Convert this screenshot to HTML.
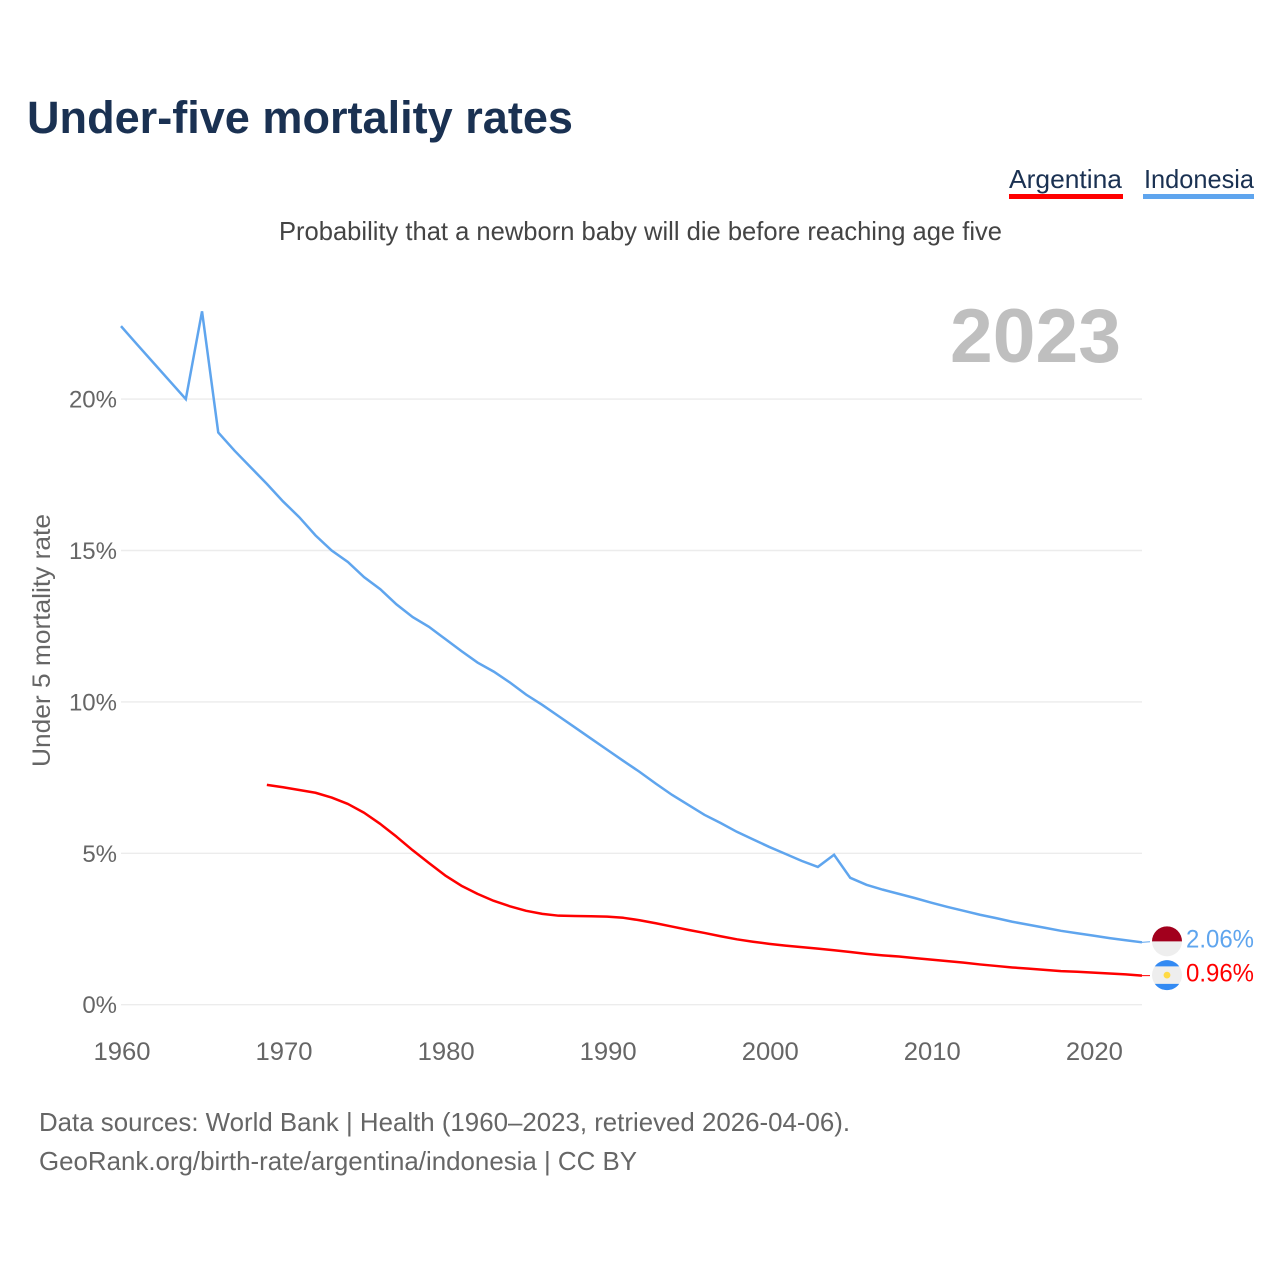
<!DOCTYPE html>
<html lang="en">
<head>
<meta charset="utf-8">
<title>Under-five mortality rates</title>
<style>
html,body{margin:0;padding:0;background:#fff;}
svg{display:block;font-family:"Liberation Sans",Arial,sans-serif;}
</style>
</head>
<body>
<svg id="chart" xmlns="http://www.w3.org/2000/svg" width="1280" height="1280" viewBox="0 0 1280 1280">
  <rect x="0" y="0" width="1280" height="1280" fill="#ffffff"/>
  <text x="27" y="133" font-size="45" font-weight="700" fill="#1a3152" textLength="546" lengthAdjust="spacingAndGlyphs">Under-five mortality rates</text>
  <g>
    <text x="1009" y="188" font-size="26" fill="#1a3152" textLength="113" lengthAdjust="spacingAndGlyphs">Argentina</text>
    <rect x="1009" y="194" width="114" height="5" fill="#ff0000"/>
  </g>
  <g>
    <text x="1144" y="188" font-size="26" fill="#1a3152" textLength="110" lengthAdjust="spacingAndGlyphs">Indonesia</text>
    <rect x="1143" y="194" width="111" height="5" fill="#5fa5ee"/>
  </g>
  <text x="279" y="240" font-size="26" fill="#444444" textLength="723" lengthAdjust="spacingAndGlyphs">Probability that a newborn baby will die before reaching age five</text>
  <text x="950" y="362" font-size="76" font-weight="700" fill="#bfbfbf" textLength="171" lengthAdjust="spacingAndGlyphs">2023</text>
  <text transform="translate(50,767) rotate(-90)" x="0" y="0" font-size="25" fill="#666666" textLength="253" lengthAdjust="spacingAndGlyphs">Under 5 mortality rate</text>
  <g id="grid"></g>
  <g id="yticks"></g>
  <g id="xticks"></g>
  <g id="series"></g>
  <g id="ends"></g>
  <text x="39" y="1131" font-size="26" fill="#666666" textLength="811" lengthAdjust="spacingAndGlyphs">Data sources: World Bank | Health (1960–2023, retrieved 2026-04-06).</text>
  <text x="39" y="1170" font-size="26" fill="#666666" textLength="598" lengthAdjust="spacingAndGlyphs">GeoRank.org/birth-rate/argentina/indonesia | CC BY</text>
</svg>
<script>
var yTickValues = [0, 5, 10, 15, 20];
var xTickYears = [1960, 1970, 1980, 1990, 2000, 2010, 2020];
var indonesiaStartYear = 1960;
var indonesiaValues = [22.41, 21.8, 21.2, 20.6, 20.0, 22.9, 18.9, 18.3, 17.75, 17.2, 16.62, 16.1, 15.5, 15.0, 14.62, 14.12, 13.72, 13.22, 12.8, 12.48, 12.08, 11.68, 11.3, 11.0, 10.64, 10.24, 9.9, 9.53, 9.16, 8.79, 8.42, 8.05, 7.69, 7.3, 6.93, 6.6, 6.27, 6.0, 5.71, 5.46, 5.21, 4.98, 4.75, 4.55, 4.95, 4.19, 3.96, 3.8, 3.66, 3.52, 3.37, 3.23, 3.1, 2.97, 2.86, 2.74, 2.64, 2.54, 2.44, 2.36, 2.28, 2.2, 2.13, 2.06];
var argentinaStartYear = 1969;
var argentinaValues = [7.26, 7.18, 7.09, 7.0, 6.84, 6.63, 6.34, 5.97, 5.55, 5.1, 4.68, 4.27, 3.93, 3.66, 3.43, 3.25, 3.1, 3.0, 2.94, 2.93, 2.92, 2.91, 2.87, 2.79, 2.69, 2.58, 2.47, 2.37, 2.26, 2.16, 2.08, 2.01, 1.95, 1.9, 1.85, 1.8, 1.74, 1.68, 1.63, 1.59, 1.54, 1.49, 1.44, 1.39, 1.33, 1.28, 1.23, 1.19, 1.15, 1.11, 1.09, 1.06, 1.03, 1.0, 0.96];

var NS = 'http://www.w3.org/2000/svg';
var RED = '#ff0000';
var BLUE = '#5fa5ee';
function xScale(year) { return 121 + (year - 1960) * 16.206; }
function yScale(value) { return 1004.7 - value * 30.28; }
function make(tag, parent) {
  var el = document.createElementNS(NS, tag);
  parent.appendChild(el);
  return el;
}
function setAll(el, attrs) {
  for (var k in attrs) { el.setAttribute(k, attrs[k]); }
}

var grid = document.getElementById('grid');
var yticks = document.getElementById('yticks');
yTickValues.forEach(function (v) {
  var line = make('line', grid);
  
  
  setAll(line, { x1: 121, x2: 1142, y1: yScale(v), y2: yScale(v), stroke: '#ececec', 'stroke-width': 1.4 });
  var label = make('text', yticks);
  
  
  setAll(label, { x: 117, y: yScale(v) + 8.5, 'text-anchor': 'end', 'font-size': 24, fill: '#666666' });
  label.textContent = v + '%';
});

var xticks = document.getElementById('xticks');
xTickYears.forEach(function (yr) {
  var label = make('text', xticks);
  
  
  setAll(label, { x: xScale(yr) + 1, y: 1060, 'text-anchor': 'middle', 'font-size': 25, fill: '#666666', textLength: 57, lengthAdjust: 'spacingAndGlyphs' });
  label.textContent = yr;
});

function linePoints(startYear, values) {
  return values.map(function (v, i) {
    return xScale(startYear + i).toFixed(2) + ',' + yScale(v).toFixed(2);
  }).join(' ');
}
var series = document.getElementById('series');
var indonesiaLine = make('polyline', series);


setAll(indonesiaLine, { points: linePoints(indonesiaStartYear, indonesiaValues), fill: 'none', stroke: BLUE, 'stroke-width': 2.5, 'stroke-linejoin': 'miter' });
var argentinaLine = make('polyline', series);


setAll(argentinaLine, { points: linePoints(argentinaStartYear, argentinaValues), fill: 'none', stroke: RED, 'stroke-width': 2.5, 'stroke-linejoin': 'round' });

var ends = document.getElementById('ends');
function lastOf(arr) { return arr[arr.length - 1]; }

var idY = yScale(lastOf(indonesiaValues));
var idLead = make('line', ends);


setAll(idLead, { x1: 1142, x2: 1150, y1: idY, y2: idY - 0.6, stroke: BLUE, 'stroke-width': 1 });
var idFlag = make('g', ends);


idFlag.setAttribute('transform', 'translate(1167,' + (idY - 1).toFixed(2) + ')');
var idBase = make('circle', idFlag);


setAll(idBase, { cx: 0, cy: 0, r: 15, fill: '#eeeeee' });
var idTop = make('path', idFlag);


setAll(idTop, { d: 'M-15 0A15 15 0 0 1 15 0Z', fill: '#a2001d' });
var idLabel = make('text', ends);


setAll(idLabel, { x: 1186, y: idY + 5, 'font-size': 25, fill: BLUE, textLength: 68, lengthAdjust: 'spacingAndGlyphs' });
idLabel.textContent = lastOf(indonesiaValues).toFixed(2) + '%';

var arY = yScale(lastOf(argentinaValues));
var arLead = make('line', ends);


setAll(arLead, { x1: 1142, x2: 1150, y1: arY, y2: arY, stroke: RED, 'stroke-width': 1 });
var arFlag = make('g', ends);


arFlag.setAttribute('transform', 'translate(1167,' + (arY - 0.5).toFixed(2) + ')');
var arBase = make('circle', arFlag);


setAll(arBase, { cx: 0, cy: 0, r: 15, fill: '#eeeeee' });
var arTop = make('path', arFlag);


setAll(arTop, { d: 'M-12.2 -8.7A15 15 0 0 1 12.2 -8.7Z', fill: '#338af3' });
var arBottom = make('path', arFlag);


setAll(arBottom, { d: 'M-12.2 8.7A15 15 0 0 0 12.2 8.7Z', fill: '#338af3' });
var arSun = make('circle', arFlag);


setAll(arSun, { cx: 0, cy: 0, r: 3.4, fill: '#ffda44' });
var arLabel = make('text', ends);


setAll(arLabel, { x: 1186, y: arY + 6, 'font-size': 25, fill: RED, textLength: 68, lengthAdjust: 'spacingAndGlyphs' });
arLabel.textContent = lastOf(argentinaValues).toFixed(2) + '%';
</script>
</body>
</html>
